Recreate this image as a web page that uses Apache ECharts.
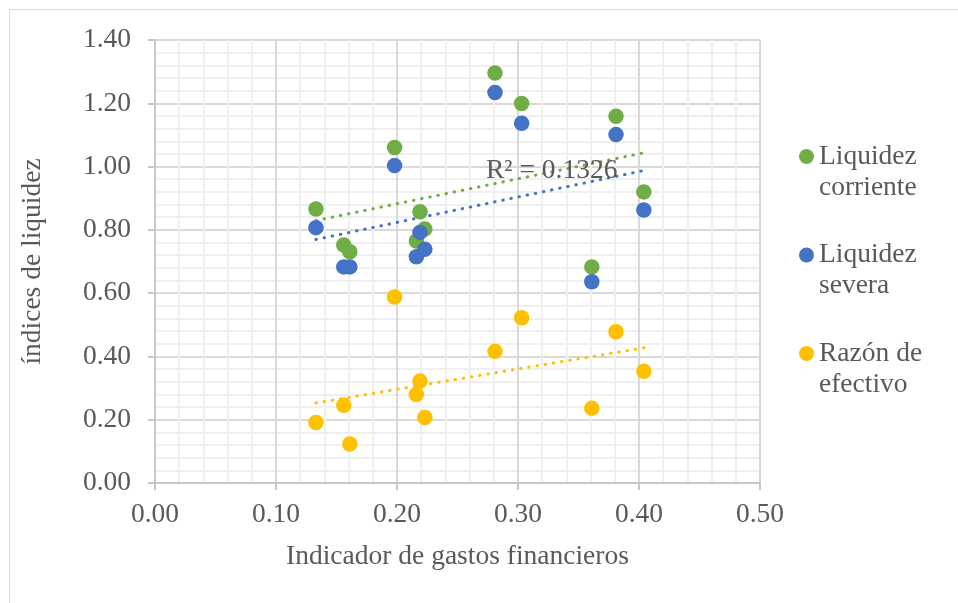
<!DOCTYPE html>
<html>
<head>
<meta charset="utf-8">
<script src="https://cdn.jsdelivr.net/npm/echarts@6/dist/echarts.min.js"></script>
<style>
html,body{margin:0;padding:0;background:#fff;}
#chart{width:958px;height:603px;}
</style>
</head>
<body>
<div id="chart"></div>
<script>
// Indicador de gastos financieros (x)
const gastosFinancieros = [0.133, 0.156, 0.161, 0.198, 0.216, 0.219, 0.223, 0.281, 0.303, 0.361, 0.381, 0.404];
const liquidezCorriente = [0.866, 0.752, 0.731, 1.060, 0.765, 0.857, 0.803, 1.296, 1.199, 0.683, 1.159, 0.920];
const liquidezSevera    = [0.807, 0.683, 0.683, 1.003, 0.715, 0.792, 0.739, 1.234, 1.137, 0.636, 1.101, 0.863];
const razonEfectivo     = [0.191, 0.246, 0.123, 0.588, 0.280, 0.322, 0.207, 0.416, 0.522, 0.236, 0.478, 0.353];
const seriesNames = ['Liquidez corriente', 'Liquidez severa', 'Razón de efectivo'];
const colors = ['#70AD47', '#4472C4', '#FFC000'];
const xTicks = [0, 0.1, 0.2, 0.3, 0.4, 0.5];
const yTicks = [0, 0.2, 0.4, 0.6, 0.8, 1.0, 1.2, 1.4];
const r2Label = 'R² = 0.1326';

const FONT = '"Liberation Serif", "DejaVu Serif", serif';
const FS = 27.5;
const TXT = '#595959';

function pairs(xs, ys) { return xs.map((x, i) => [x, ys[i]]); }
function trend(xs, ys) {
  const n = xs.length;
  const mx = xs.reduce((a, b) => a + b, 0) / n;
  const my = ys.reduce((a, b) => a + b, 0) / n;
  let sxy = 0, sxx = 0;
  for (let i = 0; i < n; i++) { sxy += (xs[i] - mx) * (ys[i] - my); sxx += (xs[i] - mx) ** 2; }
  const b = sxy / sxx, a = my - b * mx;
  const x0 = Math.min(...xs), x1 = Math.max(...xs);
  return [[x0, a + b * x0], [x1, a + b * x1]];
}

const ySets = [liquidezCorriente, liquidezSevera, razonEfectivo];
const series = [];
ySets.forEach((ys, i) => {
  series.push({
    name: seriesNames[i], type: 'line', data: trend(gastosFinancieros, ys),
    showSymbol: false, symbol: 'none', silent: true, z: 1,
    lineStyle: { color: colors[i], width: 3, type: [0.5, 7.8], cap: 'round' },
    itemStyle: { color: colors[i] }
  });
});
ySets.forEach((ys, i) => {
  series.push({
    name: seriesNames[i], type: 'scatter', data: pairs(gastosFinancieros, ys),
    symbol: 'circle', symbolSize: 15.5, z: 3,
    itemStyle: { color: colors[i], opacity: 1 }
  });
});

function legendText(n) {
  const k = n.lastIndexOf(' ');
  return '{p| }\n{t|' + n.slice(0, k) + '}\n{t|' + n.slice(k + 1) + '}';
}

const chart = echarts.init(document.getElementById('chart'), null, { renderer: 'canvas' });
chart.setOption({
  animation: false,
  backgroundColor: '#fff',
  grid: { left: 155, top: 40, right: 198, bottom: 120, containLabel: false },
  xAxis: {
    type: 'value', min: xTicks[0], max: xTicks[xTicks.length - 1], interval: 0.1,
    name: 'Indicador de gastos financieros', nameLocation: 'middle', nameGap: 60,
    nameTextStyle: { fontFamily: FONT, fontSize: FS, color: TXT },
    axisLine: { show: true, lineStyle: { color: '#c8c8c8', width: 2 } },
    axisTick: { show: true, length: 7, lineStyle: { color: '#c8c8c8', width: 2 } },
    axisLabel: { fontFamily: FONT, fontSize: FS, color: TXT, margin: 18, formatter: v => v.toFixed(2) },
    splitLine: { show: true, lineStyle: { color: '#d9d9d9', width: 2 } },
    minorTick: { show: false, splitNumber: 5 },
    minorSplitLine: { show: true, lineStyle: { color: '#efefef', width: 2 } }
  },
  yAxis: {
    type: 'value', min: yTicks[0], max: yTicks[yTicks.length - 1], interval: 0.2,
    name: 'índices de liquidez', nameLocation: 'middle', nameGap: 108, nameRotate: 90,
    nameTextStyle: { fontFamily: FONT, fontSize: FS, color: TXT },
    axisLine: { show: true, lineStyle: { color: '#c8c8c8', width: 2 } },
    axisTick: { show: true, length: 7, lineStyle: { color: '#c8c8c8', width: 2 } },
    axisLabel: { fontFamily: FONT, fontSize: FS, color: TXT, margin: 24, formatter: v => v.toFixed(2) },
    splitLine: { show: true, lineStyle: { color: '#d9d9d9', width: 2 } },
    minorTick: { show: false, splitNumber: 5 },
    minorSplitLine: { show: true, lineStyle: { color: '#efefef', width: 2 } }
  },
  legend: {
    orient: 'vertical', left: 799, top: 110, padding: 0,
    itemWidth: 15, itemHeight: 15, itemGap: 5.5, selectedMode: false,
    data: seriesNames.map((n, i) => ({ name: n, icon: 'circle', itemStyle: { color: colors[i] } })),
    formatter: legendText,
    textStyle: {
      fontFamily: FONT, fontSize: FS, color: TXT, lineHeight: 31,
      rich: {
        p: { fontFamily: FONT, fontSize: FS, lineHeight: 31, color: TXT },
        t: { fontFamily: FONT, fontSize: FS, lineHeight: 31, color: TXT }
      }
    }
  },
  graphic: [
    { type: 'rect', silent: true, z: -10, shape: { x: 9.5, y: 9.5, width: 1000, height: 1000 },
      style: { fill: 'none', stroke: '#d9d9d9', lineWidth: 1 } },
    { type: 'text', left: 486, top: 157, z: 100, silent: true,
      style: { text: r2Label, fontFamily: FONT, fontSize: FS, fill: TXT } }
  ],
  series: series
});
</script>
</body>
</html>
